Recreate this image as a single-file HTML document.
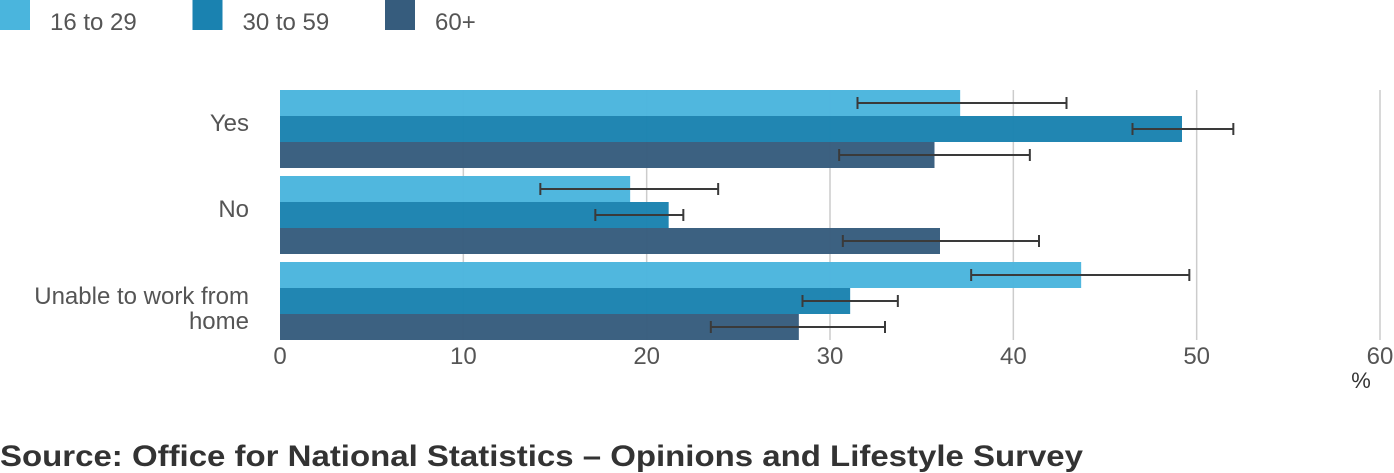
<!DOCTYPE html>
<html><head><meta charset="utf-8"><style>
body{margin:0;width:1394px;height:473px;background:#fff;overflow:hidden;font-family:"Liberation Sans",sans-serif}
</style></head><body>
<svg id="c" width="1394" height="473" style="position:absolute;left:0;top:0"></svg>
<script>
const categories=["Yes","No","Unable to work from home"];
const seriesNames=["16 to 29","30 to 59","60+"];
const v1629=[37.1,19.1,43.7];
const v3059=[49.2,21.2,31.1];
const v60=[35.7,36.0,28.3];
const lo1629=[31.5,14.2,37.7];
const hi1629=[42.9,23.9,49.6];
const lo3059=[46.5,17.2,28.5];
const hi3059=[52.0,22.0,33.7];
const lo60=[30.5,30.7,23.5];
const hi60=[40.9,41.4,33.0];
const ticks=[0,10,20,30,40,50,60];
const colors=["#4ab5dd","#1a82b0","#365c7d"];
const NS="http://www.w3.org/2000/svg";
const svg=document.getElementById('c');
const x=v=>280+v*(1380-280)/60;
function mk(t,a,p){const e=document.createElementNS(NS,t);for(const k in a)e.setAttribute(k,a[k]);(p||svg).appendChild(e);return e;}
seriesNames.forEach((n,i)=>{
  const g=mk('g',{});
  
  
  mk('rect',{x:i*192.5,y:0,width:30,height:30,fill:colors[i]},g);
  const t=mk('text',{x:50+i*192.5,y:30,'font-size':24,fill:'#555'},g);t.textContent=n;
});
ticks.forEach(t=>{
  if(t>0){const l=mk('line',{x1:x(t),x2:x(t),y1:90,y2:340,stroke:'#ccc','stroke-width':1.5});
  }
  const tx=mk('text',{x:x(t),y:364,'font-size':24,fill:'#555','text-anchor':'middle'});
  
  tx.textContent=t;
});
const pct=mk('text',{x:1361,y:388,'font-size':22,fill:'#333','text-anchor':'middle'});
pct.textContent='%';
const vals=[v1629,v3059,v60],los=[lo1629,lo3059,lo60],his=[hi1629,hi3059,hi60];
categories.forEach((c,ci)=>{
  const gy=90+ci*86;
  vals.forEach((s,si)=>{
    const y=gy+si*26;
    const r=mk('rect',{x:x(0),y:y,width:x(s[ci])-x(0),height:26,fill:colors[si],opacity:0.97});
    
    const cy=y+13,a=x(los[si][ci]),b=x(his[si][ci]);
    const e=mk('path',{d:`M${a},${cy}H${b}M${a},${cy-6}V${cy+6}M${b},${cy-6}V${cy+6}`,stroke:'#3a3a3a','stroke-width':2,fill:'none'});
    
  });
});
function lab(lines,y){const t=mk('text',{'font-size':24,fill:'#555','text-anchor':'end'});
  
  lines.forEach((l,i)=>{const s=mk('tspan',{x:249,y:y+i*25},t);s.textContent=l;});}
lab(["Yes"],131);lab(["No"],217);lab(["Unable to work from","home"],304);
const src=mk('text',{x:0,y:466,'font-size':30,'font-weight':'bold',fill:'#333',textLength:1083,lengthAdjust:'spacingAndGlyphs'});

src.textContent='Source: Office for National Statistics – Opinions and Lifestyle Survey';
</script>
</body></html>
